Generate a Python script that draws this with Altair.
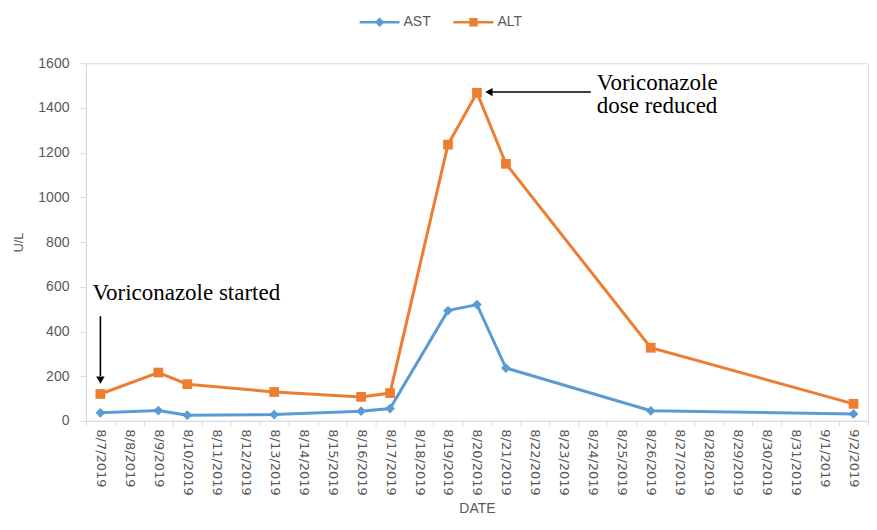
import altair as alt
import pandas as pd

all_dates = ["8/7/2019", "8/8/2019", "8/9/2019", "8/10/2019", "8/11/2019", "8/12/2019",
             "8/13/2019", "8/14/2019", "8/15/2019", "8/16/2019", "8/17/2019", "8/18/2019",
             "8/19/2019", "8/20/2019", "8/21/2019", "8/22/2019", "8/23/2019", "8/24/2019",
             "8/25/2019", "8/26/2019", "8/27/2019", "8/28/2019", "8/29/2019", "8/30/2019",
             "8/31/2019", "9/1/2019", "9/2/2019"]
meas_dates = ["8/7/2019", "8/9/2019", "8/10/2019", "8/13/2019", "8/16/2019", "8/17/2019",
              "8/19/2019", "8/20/2019", "8/21/2019", "8/26/2019", "9/2/2019"]
ast_vals = [36, 46, 25, 28, 43, 55, 493, 520, 236, 45, 31]
alt_vals = [120, 216, 164, 129, 107, 124, 1236, 1468, 1150, 327, 76]
series = ["AST", "ALT"]
colors = ["#5B9BD5", "#ED7D31"]
y_ticks = [0, 200, 400, 600, 800, 1000, 1200, 1400, 1600]

rows = []
for name, vals in (("AST", ast_vals), ("ALT", alt_vals)):
    for d, v in zip(meas_dates, vals):
        rows.append({"date": d, "value": v, "series": name, "i": all_dates.index(d)})
df = pd.DataFrame(rows)

started_text = pd.DataFrame([{"date": "8/7/2019", "value": 539, "t": "Voriconazole started"}])
started_arrow = pd.DataFrame([{"date": "8/7/2019", "v1": 468, "v2": 200, "head": 182}])
dose_text = pd.DataFrame([{"date": "8/24/2019", "value": 1480, "t": "Voriconazole\ndose reduced"}])
dose_arrow = pd.DataFrame([{"d1": "8/24/2019", "d2": "8/20/2019", "value": 1471}])

GRAY = "#595959"
LIGHT = "#D9D9D9"

xscale = alt.Scale(type="band", domain=all_dates, paddingInner=0, paddingOuter=0)
yscale = alt.Scale(domain=[0, 1600], nice=False)

xaxis = alt.Axis(title="DATE", labelAngle=90, labelAlign="left", labelBaseline="middle",
                 labelFont="DejaVu Sans", labelFontSize=13, labelColor=GRAY,
                 tickBand="extent", tickColor=LIGHT, domainColor=LIGHT, tickSize=5,
                 labelPadding=3, titleFont="Liberation Sans", titleFontSize=14,
                 titleFontWeight="normal", titleColor=GRAY, titlePadding=6, grid=False)
yaxis = alt.Axis(title="U/L", values=y_ticks, format="d", grid=False, labelFont="Liberation Sans",
                 labelFontSize=14, labelColor=GRAY, tickColor=LIGHT, domainColor=LIGHT,
                 tickSize=6, labelPadding=11, titleFont="Liberation Sans", titleFontSize=13,
                 titleFontWeight="normal", titleColor=GRAY, titlePadding=12)

cscale = alt.Scale(domain=series, range=colors)

X = alt.X("date:O", scale=xscale, axis=xaxis, bandPosition=0.5)
Y = alt.Y("value:Q", scale=yscale, axis=yaxis)

base = alt.Chart(df)

leg = alt.Legend(title=None, orient="none", legendX=284, legendY=-51, direction="horizontal",
                 symbolSize=400, symbolStrokeWidth=0, labelFont="Liberation Sans",
                 labelFontSize=14, labelColor=GRAY, labelOffset=14, columnPadding=22)
paths = ["M-2,-0.13L2,-0.13L2,0.13L-2,0.13Z M0,-0.48L0.48,0L0,0.48L-0.48,0Z",
         "M-2,-0.13L2,-0.13L2,0.13L-2,0.13Z M-0.42,-0.42L0.42,-0.42L0.42,0.42L-0.42,0.42Z"]
legend_layer = base.mark_point(filled=True, opacity=1, strokeWidth=0, size=1).encode(
    x=X, y=Y,
    fill=alt.Fill("series:N", scale=alt.Scale(domain=series, range=colors), legend=leg),
    shape=alt.Shape("series:N", scale=alt.Scale(domain=series, range=paths), legend=leg))

lines = base.mark_line(strokeWidth=3).encode(
    x=X, y=Y, color=alt.Color("series:N", scale=cscale, legend=None),
    order=alt.Order("i:Q"), detail="series:N")
ast_pts = base.transform_filter("datum.series == 'AST'").mark_point(
    filled=True, opacity=1, size=95, shape="diamond").encode(
    x=X, y=Y, color=alt.Color("series:N", scale=cscale, legend=None))
alt_pts = base.transform_filter("datum.series == 'ALT'").mark_point(
    filled=True, opacity=1, size=95, shape="square").encode(
    x=X, y=Y, color=alt.Color("series:N", scale=cscale, legend=None))

t1 = alt.Chart(started_text).mark_text(align="left", baseline="alphabetic", dx=-8,
                                       font="Liberation Serif", fontSize=23, color="black").encode(
    x=alt.X("date:O", bandPosition=0.5), y="value:Q", text="t:N")
r1 = alt.Chart(started_arrow).mark_rule(color="black", strokeWidth=1.6).encode(
    x=alt.X("date:O", bandPosition=0.5), y="v1:Q", y2="v2:Q")
h1 = alt.Chart(started_arrow).mark_point(shape="triangle-down", filled=True, size=70,
                                         color="black", opacity=1).encode(
    x=alt.X("date:O", bandPosition=0.5), y=alt.Y("head:Q"))

t2 = alt.Chart(dose_text).mark_text(align="left", baseline="alphabetic", dx=4, lineBreak="\n",
                                    lineHeight=23, font="Liberation Serif", fontSize=23,
                                    color="black").encode(
    x=alt.X("date:O", bandPosition=0.5), y="value:Q", text="t:N")
r2 = alt.Chart(dose_arrow).mark_rule(color="black", strokeWidth=1.6, xOffset=-2, x2Offset=14).encode(
    x=alt.X("d1:O", bandPosition=0.5), x2="d2:O", y="value:Q")
h2 = alt.Chart(dose_arrow).mark_point(shape="triangle-left", filled=True, size=70,
                                      color="black", opacity=1, xOffset=12).encode(
    x=alt.X("d2:O", bandPosition=0.5), y="value:Q")

chart = alt.layer(legend_layer, lines, ast_pts, alt_pts, t1, r1, h1, t2, r2, h2).properties(
    width=783, height=358, padding={"left": 4, "top": 4, "right": 0, "bottom": 0}
).configure_view(stroke=None).configure(background="white")

chart.save("out.html", embed_options={"renderer": "svg", "actions": False})
